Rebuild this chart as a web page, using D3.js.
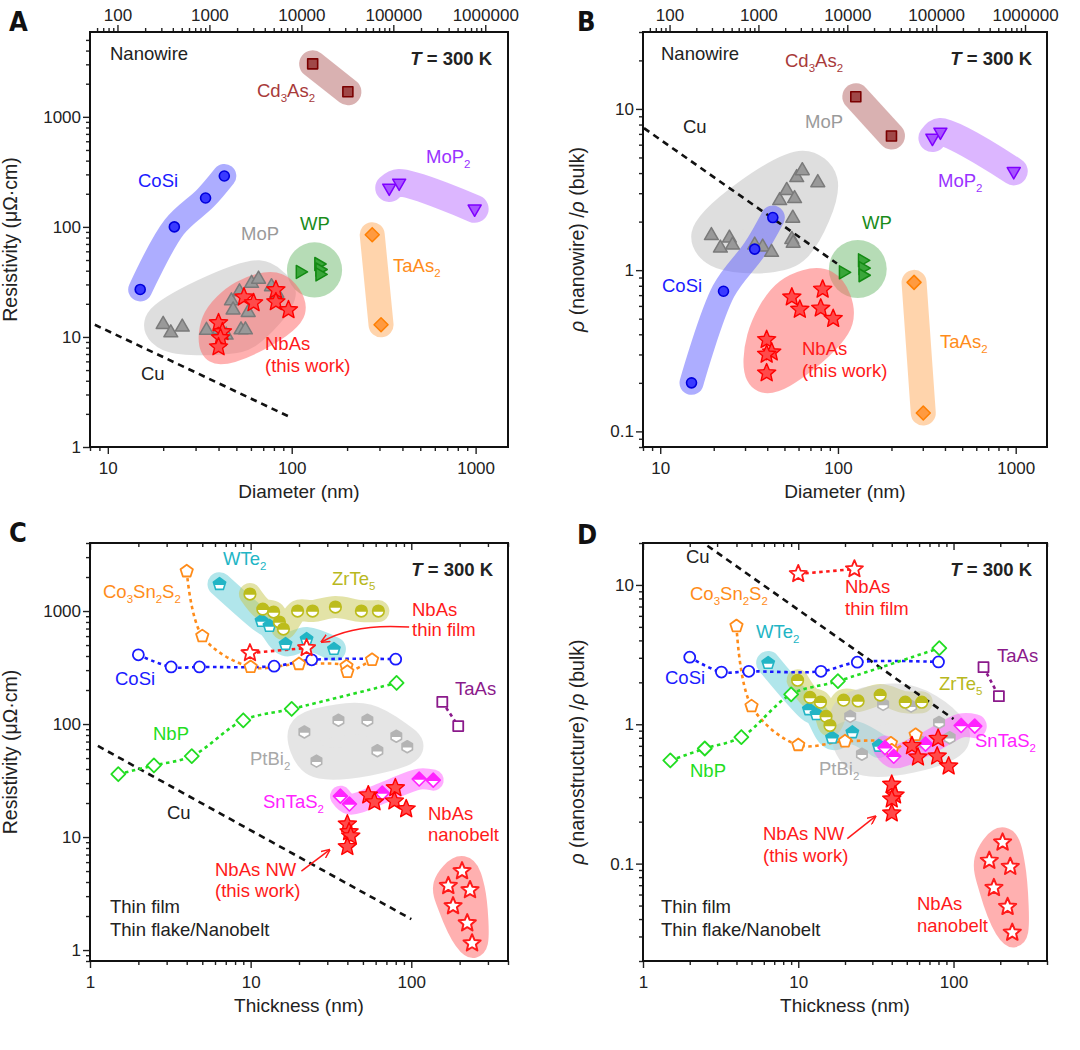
<!DOCTYPE html>
<html>
<head>
<meta charset="utf-8">
<script src="https://cdn.jsdelivr.net/npm/d3@7"></script>
<style>
  body { margin: 0; background: #fff; }
  svg { font-family: "Liberation Sans", Arial, Helvetica, sans-serif; }
</style>
</head>
<body>
<svg id="canvas" width="1080" height="1050"></svg>
<script>
// ---------- data, panel A: nanowire resistivity (uOhm cm) vs diameter (nm) ----------
const aCoSi   = [[15, 27], [23, 100], [34, 183], [43, 290]];
const aCd3As2 = [[130, 3030], [202, 1690]];
const aMoP2   = [[339, 226], [384, 251], [988, 146]];
const aTaAs2  = [[274, 85], [306, 12.9]];
const aWP     = [[111, 39], [140, 46], [142, 41], [142, 37]];
const aMoP    = [[20, 13], [22, 10.9], [25.4, 12.3], [34.4, 11.5], [40.5, 11.6], [44, 10.4], [47, 21.3],
                 [48, 17.6], [53, 11.6], [56, 11.6], [58, 16.7], [60.5, 30.7], [66, 33.5], [52, 25.7],
                 [77.6, 28.6], [83, 25]];
const aNbAs   = [[40, 13.4], [42, 11.1], [41, 9.8], [40, 8.1], [55, 23], [62, 20.4], [82, 26.7], [82, 20.8], [96, 17.6]];
const aCu     = [[8.5, 12.9], [96, 1.9]];

// ---------- data, panel B: rho(nanowire)/rho(bulk) vs diameter ----------
const bCoSi   = [[15, 0.2], [22.7, 0.74], [34, 1.35], [43, 2.12]];
const bCd3As2 = [[126, 11.9], [200, 6.8]];
const bMoP2   = [[340, 6.6], [377, 7.2], [975, 4.1]];
const bTaAs2  = [[268, 0.84], [302, 0.13]];
const bWP     = [[107, 0.97], [137, 1.15], [138, 1.03], [138, 0.93]];
const bMoP    = [[19.4, 1.64], [21.8, 1.37], [24.5, 1.58], [25.5, 1.43], [34, 1.43], [37.7, 1.39], [42.3, 1.29],
                 [47, 2.7], [51.5, 3.12], [57, 2.78], [58.6, 3.75], [63, 4.14], [77, 3.49], [55.7, 2.1],
                 [55, 1.55], [56, 1.47]];
const bNbAs   = [[39.7, 0.37], [42.4, 0.31], [39.7, 0.30], [39.7, 0.23], [55, 0.68], [61, 0.57], [82, 0.76], [80, 0.58], [94, 0.50]];
const bCu     = [[8.1, 7.6], [98.7, 1.1]];

// ---------- data, panel C: thin film / flake resistivity vs thickness (nm) ----------
const cCo3Sn2S2 = [[4, 2250], [5, 600], [10, 320], [20, 340], [39.5, 325], [40, 290], [57, 370]];
const cCoSi     = [[2, 410], [3.2, 320], [4.8, 320], [14, 325], [24, 370], [80, 375]];
const cNbP      = [[1.5, 36], [2.5, 43], [4.3, 52], [9, 108], [18, 136], [81, 231]];
const cWTe2     = [[6.4, 1730], [11.7, 816], [13.1, 737], [16.5, 510], [22.3, 565], [33, 461]];
const cZrTe5    = [[9.9, 1414], [11.9, 1040], [13.9, 980], [15.1, 800], [16, 693], [19.6, 1000], [24.3, 1000],
                   [33.7, 1085], [48.9, 1000], [62.4, 1000]];
const cNbAsFilm = [[9.9, 425], [22.3, 471]];
const cTaAs     = [[156, 157], [196, 96]];
const cPtBi2    = [[21.6, 85], [25.7, 47], [35.2, 108], [53.3, 108], [61.5, 58], [80.7, 78], [94.4, 63]];
const cSnTaS2   = [[36.2, 23], [41.2, 19.6], [66, 24.5], [112, 32.6], [137, 31.9]];
const cNbAsNW   = [[40, 13], [41, 11.1], [42, 10.2], [40, 8.2], [54, 23.5], [59, 20.4], [79.6, 27.2], [78.5, 20.8], [93, 17.7]];
const cNanobelt = [[207, 5.0], [170, 3.7], [232, 3.4], [182, 2.45], [223, 1.73], [239, 1.15]];
const cCu       = [[1.12, 64], [100, 1.88]];

// ---------- data, panel D: rho(nanostructure)/rho(bulk) vs thickness ----------
const dCo3Sn2S2 = [[4, 5.07], [5, 1.35], [10, 0.71], [20, 0.755], [39.5, 0.73], [40, 0.65], [57, 0.84]];
const dCoSi     = [[2, 3.03], [3.2, 2.37], [4.8, 2.4], [14, 2.4], [24, 2.79], [80, 2.8]];
const dNbP      = [[1.5, 0.55], [2.5, 0.67], [4.3, 0.81], [9, 1.64], [18, 2.04], [81, 3.52]];
const dWTe2     = [[6.4, 2.75], [11.7, 1.28], [13.1, 1.18], [16.5, 0.8], [22.3, 0.875], [33, 0.70]];
const dZrTe5    = [[9.9, 2.07], [11.9, 1.56], [13.9, 1.44], [15.1, 1.14], [16, 0.98], [19.6, 1.49], [24.3, 1.47],
                   [33.7, 1.62], [48.9, 1.44], [62.4, 1.44]];
const dNbAsFilm = [[10, 12], [23, 13]];
const dTaAs     = [[156, 2.57], [196, 1.59]];
const dPtBi2    = [[21.6, 1.14], [25.7, 0.61], [35.2, 1.39], [53.3, 1.35], [61.5, 0.75], [80.7, 1.03], [94.4, 0.8]];
const dSnTaS2   = [[36.2, 0.68], [41.2, 0.59], [66, 0.72], [112, 0.98], [137, 0.97]];
const dNbAsNW   = [[40, 0.37], [42, 0.31], [40, 0.29], [40, 0.23], [54, 0.70], [59, 0.58], [79.6, 0.79], [78.5, 0.59], [93, 0.50]];
const dNanobelt = [[207, 0.142], [170, 0.105], [232, 0.095], [182, 0.067], [223, 0.049], [239, 0.032]];
const dCu       = [[2.6, 19.1], [100, 1.09]];

// axis domains
const diamDomain = [8, 1500];
const thickDomain = [1, 400];
const aYDomain = [1, 5900];
const bYDomain = [0.08, 30];
const cYDomain = [0.8, 4000];
const dYDomain = [0.02, 20];

// ---------- layout ----------
const layout = {
  A: {left: 90,  top: 32,  width: 418, height: 415},
  B: {left: 643, top: 32,  width: 404, height: 415},
  C: {left: 90,  top: 543, width: 418, height: 418},
  D: {left: 643, top: 543, width: 404, height: 418}
};

const svg = d3.select("#canvas");
const defs = svg.append("defs");
defs.append("clipPath").attr("id", "lowerHalf")
  .append("rect").attr("x", -20).attr("y", 0.8).attr("width", 40).attr("height", 20);
defs.append("marker").attr("id", "arrowRed")
  .attr("viewBox", "0 0 10 10").attr("refX", 9).attr("refY", 5)
  .attr("markerWidth", 6).attr("markerHeight", 6).attr("orient", "auto")
  .append("path").attr("d", "M0,0.5 L10,5 L0,9.5")
  .attr("fill", "none").attr("stroke", "#ff1a1a").attr("stroke-width", 1.6);

// ---------- marker shapes ----------
function poly(n, r, start, inner) {
  const k = inner ? 2 * n : n, pts = [];
  for (let i = 0; i < k; i++) {
    const a = start + i * 2 * Math.PI / k;
    const rr = inner && i % 2 ? r * inner : r;
    pts.push([rr * Math.cos(a), rr * Math.sin(a)]);
  }
  return "M" + pts.map(p => p[0].toFixed(2) + "," + p[1].toFixed(2)).join("L") + "Z";
}
function shapePath(shape, r) {
  const up = -Math.PI / 2;
  switch (shape) {
    case "circle":   return `M${r},0A${r},${r} 0 1,1 ${-r},0A${r},${r} 0 1,1 ${r},0Z`;
    case "square":   return `M${-r},${-r}H${r}V${r}H${-r}Z`;
    case "triUp":    return poly(3, r, up);
    case "triDown":  return poly(3, r, Math.PI / 2);
    case "triRight": return poly(3, r, 0);
    case "diamond":  return poly(4, r, up);
    case "pentagon": return poly(5, r, up);
    case "hexagon":  return poly(6, r, up);
    case "star":     return poly(5, r, up, 0.45);
  }
}

const styles = {
  coSiNW:   {shape: "circle",   r: 5,   fill: "#3a3aff", stroke: "#0000dd", sw: 1.6},
  cd3As2:   {shape: "square",   r: 5,   fill: "#a04848", stroke: "#7a0000", sw: 1.6},
  moP2:     {shape: "triDown",  r: 7.5, fill: "#a855ff", stroke: "#7f00ff", sw: 1.5},
  taAs2:    {shape: "diamond",  r: 7,   fill: "#ff9a40", stroke: "#ff7f00", sw: 1.5},
  wp:       {shape: "triRight", r: 7.5, fill: "#3aa63a", stroke: "#138a13", sw: 1.5},
  moP:      {shape: "triUp",    r: 8,   fill: "#999999", stroke: "#7a7a7a", sw: 1.5},
  nbAsNW:   {shape: "star",     r: 9.5, fill: "#ff4a4a", stroke: "#ff0000", sw: 1.4},
  co3Sn2S2: {shape: "pentagon", r: 6.5, fill: "#ffffff", stroke: "#ff8c1a", sw: 1.8},
  coSiFilm: {shape: "circle",   r: 5.5, fill: "#ffffff", stroke: "#1a1aff", sw: 1.8},
  nbP:      {shape: "diamond",  r: 7,   fill: "#ffffff", stroke: "#22dd22", sw: 1.8},
  nbAsFilm: {shape: "star",     r: 9,   fill: "#ffffff", stroke: "#ff1a1a", sw: 1.8},
  taAs:     {shape: "square",   r: 5,   fill: "#ffffff", stroke: "#8b1a8b", sw: 1.8},
  wTe2:     {shape: "pentagon", r: 6.5, fill: "#22b5c5", stroke: "#22b5c5", sw: 1.6, half: true},
  zrTe5:    {shape: "circle",   r: 5.8, fill: "#bcbc1c", stroke: "#bcbc1c", sw: 1.6, half: true},
  ptBi2:    {shape: "hexagon",  r: 6,   fill: "#b4b4b4", stroke: "#b4b4b4", sw: 1.6, half: true},
  snTaS2:   {shape: "diamond",  r: 7,   fill: "#ff22ff", stroke: "#ff22ff", sw: 1.6, half: true},
  nanobelt: {shape: "star",     r: 9,   fill: "#ffffff", stroke: "#ff1a1a", sw: 2}
};

const col = {
  coSi: "#1a1aff", cd3As2: "#a83a3a", moP2: "#9933ff", moP: "#9a9a9a", wp: "#1a8c1a",
  taAs2: "#ff8c1a", nbAs: "#ff1a1a", co3: "#ff8c1a", wTe2: "#22b5c5", zrTe5: "#b8b820",
  nbP: "#22dd22", taAs: "#8b1a8b", ptBi2: "#a8a8a8", snTaS2: "#ff22ff", black: "#222"
};

// ---------- drawing helpers ----------
function markers(g, data, x, y, st) {
  const m = g.append("g").selectAll("g").data(data).join("g")
    .attr("transform", d => `translate(${x(d[0])},${y(d[1])})`);
  const p = shapePath(st.shape, st.r);
  if (st.half) {
    m.append("path").attr("d", p).attr("fill", st.fill);
    m.append("path").attr("d", p).attr("fill", "#fff").attr("clip-path", "url(#lowerHalf)");
    m.append("path").attr("d", p).attr("fill", "none").attr("stroke", st.stroke)
      .attr("stroke-width", st.sw).attr("stroke-linejoin", "round");
  } else {
    m.append("path").attr("d", p).attr("fill", st.fill).attr("stroke", st.stroke)
      .attr("stroke-width", st.sw).attr("stroke-linejoin", "round");
  }
}

function band(g, data, x, y, color, width) {
  const line = d3.line().x(d => x(d[0])).y(d => y(d[1])).curve(d3.curveCatmullRom.alpha(0.5));
  g.append("path").attr("d", line(data)).attr("fill", "none")
    .attr("stroke", color).attr("stroke-width", width)
    .attr("stroke-linecap", "round").attr("stroke-linejoin", "round")
    .attr("opacity", 0.5);
}

// rounded padded hull around a group of points
function blob(g, data, x, y, color, pad) {
  const pts = data.map(d => [x(d[0]), y(d[1])]);
  const hull = d3.polygonHull(pts);
  g.append("path").attr("d", d3.line().curve(d3.curveCatmullRomClosed.alpha(0.5))(hull))
    .attr("fill", color).attr("stroke", color).attr("stroke-width", 2 * pad)
    .attr("stroke-linejoin", "round").attr("opacity", 0.5);
}

// round patch centred on a small group
function disc(g, data, x, y, color, pad) {
  const pts = data.map(d => [x(d[0]), y(d[1])]);
  const cx = d3.mean(pts, p => p[0]), cy = d3.mean(pts, p => p[1]);
  const r = d3.max(pts, p => Math.hypot(p[0] - cx, p[1] - cy)) + pad;
  g.append("circle").attr("cx", cx).attr("cy", cy).attr("r", r)
    .attr("fill", color).attr("opacity", 0.5);
}

function dotted(g, data, x, y, color) {
  const line = d3.line().x(d => x(d[0])).y(d => y(d[1])).curve(d3.curveCatmullRom.alpha(0.5));
  g.append("path").attr("d", line(data)).attr("fill", "none")
    .attr("stroke", color).attr("stroke-width", 2.6).attr("stroke-dasharray", "3.5,3.5");
}

function cuLine(g, data, x, y) {
  g.append("path").attr("d", d3.line().x(d => x(d[0])).y(d => y(d[1]))(data))
    .attr("fill", "none").attr("stroke", "#111").attr("stroke-width", 2.6)
    .attr("stroke-dasharray", "6.5,5");
}

// mini markup: _x_ subscript, *x* italic
function rich(g, str, x, y, o = {}) {
  const size = o.size || 18.5;
  const t = g.append("text").attr("x", x).attr("y", y).attr("dy", "0.35em")
    .attr("text-anchor", o.anchor || "start").attr("fill", o.color || col.black)
    .style("font-size", size + "px");
  if (o.bold) t.style("font-weight", "bold");
  if (o.rotate) t.attr("transform", `rotate(-90,${x},${y})`);
  let shift = 0;
  str.split(/(_[^_]+_|\*[^*]+\*)/).filter(s => s.length).forEach(s => {
    if (s[0] === "_") {
      t.append("tspan").attr("dy", 5 - shift).style("font-size", (size * 0.62) + "px").text(s.slice(1, -1));
      shift = 5;
    } else {
      const ts = t.append("tspan").attr("dy", -shift).text(s[0] === "*" ? s.slice(1, -1) : s);
      if (s[0] === "*") ts.style("font-style", "italic");
      shift = 0;
    }
  });
  return t;
}

function arrow(g, pts, x, y) {
  const p = pts.map(d => [x(d[0]), y(d[1])]);
  const d = p.length === 3
    ? `M${p[0]}Q${p[1]} ${p[2]}`
    : `M${p[0]}L${p[1]}`;
  g.append("path").attr("d", d).attr("fill", "none").attr("stroke", "#ff1a1a")
    .attr("stroke-width", 1.5).attr("marker-end", "url(#arrowRed)");
}

const isMajor = v => Math.abs(Math.log10(v) - Math.round(Math.log10(v))) < 1e-9;
const fmt = d => d < 1 ? String(d) : d3.format("d")(d);

function axisStyle(sel) {
  sel.select(".domain").remove();
  sel.selectAll("line").attr("stroke", "#222").attr("stroke-width", 1.4);
  sel.selectAll("text").style("font-size", "17px").attr("fill", "#222");
}

function setupPanel(key, xDomain, yDomain, opts) {
  const p = layout[key];
  const g = svg.append("g").attr("transform", `translate(${p.left},${p.top})`);
  const x = d3.scaleLog().domain(xDomain).range([0, p.width]);
  const y = d3.scaleLog().domain(yDomain).range([p.height, 0]);
  const xt = x.ticks(), yt = y.ticks();

  const axes = g.append("g");
  axes.append("g").attr("transform", `translate(0,${p.height})`)
    .call(d3.axisBottom(x).tickValues(xt.filter(isMajor)).tickSize(7).tickPadding(8).tickFormat(fmt)).call(axisStyle);
  axes.append("g").attr("transform", `translate(0,${p.height})`)
    .call(d3.axisBottom(x).tickValues(xt.filter(v => !isMajor(v))).tickSize(4).tickFormat("")).call(axisStyle);
  axes.append("g")
    .call(d3.axisLeft(y).tickValues(yt.filter(isMajor)).tickSize(7).tickPadding(2).tickFormat(fmt)).call(axisStyle);
  axes.append("g")
    .call(d3.axisLeft(y).tickValues(yt.filter(v => !isMajor(v))).tickSize(4).tickFormat("")).call(axisStyle);

  if (opts.areaTop) {
    // top axis: cross-sectional area pi*d^2/4 (nm^2)
    const xa = d3.scaleLog().domain(xDomain.map(d => Math.PI * d * d / 4)).range([0, p.width]);
    const at = xa.ticks();
    axes.append("g").call(d3.axisTop(xa).tickValues(at.filter(isMajor)).tickSize(7).tickPadding(4).tickFormat(fmt)).call(axisStyle);
    axes.append("g").call(d3.axisTop(xa).tickValues(at.filter(v => !isMajor(v))).tickSize(4).tickFormat("")).call(axisStyle);
  } else {
    axes.append("g").call(d3.axisTop(x).tickValues(xt.filter(isMajor)).tickSize(-7).tickFormat("")).call(axisStyle);
    axes.append("g").call(d3.axisTop(x).tickValues(xt.filter(v => !isMajor(v))).tickSize(-4).tickFormat("")).call(axisStyle);
  }

  g.append("rect").attr("width", p.width).attr("height", p.height)
    .attr("fill", "none").attr("stroke", "#111").attr("stroke-width", 2);

  rich(g, opts.xTitle, p.width / 2, p.height + 51, {anchor: "middle", size: 19});
  rich(g, opts.yTitle, opts.yTitleX, p.height / 2, {anchor: "middle", size: 19.5, rotate: true});
  rich(g, "*T* = 300 K", opts.tempX, 33, {anchor: "end", bold: true, size: 18.5});
  g.append("text").attr("x", opts.letterX).attr("y", opts.letterY).attr("dy", "0.35em")
    .style("font-family", "'Liberation Sans Narrow','DejaVu Sans Condensed',sans-serif")
    .style("font-weight", "bold").style("font-size", "27px").attr("fill", "#111").text(key);

  const plot = g.append("g");
  return {g: plot, x, y};
}

function labels(g, list) {
  list.forEach(([txt, lx, ly, color]) => rich(g, txt, lx, ly, {color}));
}

// ================= Panel A =================
{
  const {g, x, y} = setupPanel("A", diamDomain, aYDomain, {
    areaTop: true, xTitle: "Diameter (nm)", yTitle: "Resistivity (μΩ·cm)",
    yTitleX: -73, tempX: 402, letterX: -81, letterY: -10
  });
  band(g, aCoSi, x, y, "#5c5cff", 24);
  band(g, aCd3As2, x, y, "#b46464", 27);
  band(g, aMoP2, x, y, "#b96eff", 28);
  band(g, aTaAs2, x, y, "#ffaa5a", 25);
  disc(g, aWP, x, y, "#6eb96e", 13);
  blob(g, aMoP, x, y, "#bebebe", 19);
  blob(g, aNbAs, x, y, "#ff6464", 17);
  cuLine(g, aCu, x, y);
  markers(g, aCoSi, x, y, styles.coSiNW);
  markers(g, aCd3As2, x, y, styles.cd3As2);
  markers(g, aMoP2, x, y, styles.moP2);
  markers(g, aTaAs2, x, y, styles.taAs2);
  markers(g, aWP, x, y, styles.wp);
  markers(g, aMoP, x, y, styles.moP);
  markers(g, aNbAs, x, y, styles.nbAsNW);
  labels(g, [
    ["Nanowire", 20, 28, col.black],
    ["Cd_3_As_2_", 167, 65, col.cd3As2],
    ["CoSi", 48, 155, col.coSi],
    ["MoP_2_", 336, 131, col.moP2],
    ["MoP", 151, 208, col.moP],
    ["WP", 210, 198, col.wp],
    ["TaAs_2_", 303, 240, col.taAs2],
    ["NbAs", 175, 318, col.nbAs],
    ["(this work)", 175, 340, col.nbAs],
    ["Cu", 51, 348, col.black]
  ]);
}

// ================= Panel B =================
{
  const {g, x, y} = setupPanel("B", diamDomain, bYDomain, {
    areaTop: true, xTitle: "Diameter (nm)", yTitle: "*ρ* (nanowire) /*ρ* (bulk)",
    yTitleX: -59, tempX: 389, letterX: -66, letterY: -10
  });
  blob(g, bMoP, x, y, "#bebebe", 20);
  band(g, bCoSi, x, y, "#5c5cff", 24);
  band(g, bCd3As2, x, y, "#b46464", 27);
  band(g, bMoP2, x, y, "#b96eff", 28);
  band(g, bTaAs2, x, y, "#ffaa5a", 25);
  disc(g, bWP, x, y, "#6eb96e", 14);
  blob(g, bNbAs, x, y, "#ff6464", 20);
  cuLine(g, bCu, x, y);
  markers(g, bMoP, x, y, styles.moP);
  markers(g, bCoSi, x, y, styles.coSiNW);
  markers(g, bCd3As2, x, y, styles.cd3As2);
  markers(g, bMoP2, x, y, styles.moP2);
  markers(g, bTaAs2, x, y, styles.taAs2);
  markers(g, bWP, x, y, styles.wp);
  markers(g, bNbAs, x, y, styles.nbAsNW);
  labels(g, [
    ["Nanowire", 18, 28, col.black],
    ["Cd_3_As_2_", 142, 35, col.cd3As2],
    ["Cu", 40, 101, col.black],
    ["MoP", 162, 96, col.moP],
    ["MoP_2_", 295, 155, col.moP2],
    ["WP", 219, 197, col.wp],
    ["CoSi", 19, 260, col.coSi],
    ["NbAs", 159, 323, col.nbAs],
    ["(this work)", 159, 345, col.nbAs],
    ["TaAs_2_", 297, 316, col.taAs2]
  ]);
}

// ================= Panel C =================
{
  const {g, x, y} = setupPanel("C", thickDomain, cYDomain, {
    areaTop: false, xTitle: "Thickness (nm)", yTitle: "Resistivity (μΩ·cm)",
    yTitleX: -73, tempX: 403, letterX: -81, letterY: -10
  });
  band(g, cWTe2, x, y, "#64cdd7", 24);
  band(g, cZrTe5, x, y, "#c8c850", 22);
  blob(g, cPtBi2, x, y, "#cccccc", 16);
  band(g, cSnTaS2, x, y, "#ff5aff", 21);
  blob(g, cNanobelt, x, y, "#ff6464", 15);
  cuLine(g, cCu, x, y);
  dotted(g, cCo3Sn2S2, x, y, col.co3);
  dotted(g, cCoSi, x, y, col.coSi);
  dotted(g, cNbP, x, y, col.nbP);
  dotted(g, cNbAsFilm, x, y, col.nbAs);
  dotted(g, cTaAs, x, y, col.taAs);
  markers(g, cPtBi2, x, y, styles.ptBi2);
  markers(g, cWTe2, x, y, styles.wTe2);
  markers(g, cZrTe5, x, y, styles.zrTe5);
  markers(g, cCo3Sn2S2, x, y, styles.co3Sn2S2);
  markers(g, cCoSi, x, y, styles.coSiFilm);
  markers(g, cNbP, x, y, styles.nbP);
  markers(g, cNbAsFilm, x, y, styles.nbAsFilm);
  markers(g, cTaAs, x, y, styles.taAs);
  markers(g, cSnTaS2, x, y, styles.snTaS2);
  markers(g, cNbAsNW, x, y, styles.nbAsNW);
  markers(g, cNanobelt, x, y, styles.nanobelt);
  arrow(g, [[97, 721], [44, 783], [27.6, 532]], x, y);
  arrow(g, [[20.7, 5.0], [31, 7.7]], x, y);
  labels(g, [
    ["WTe_2_", 133, 22, col.wTe2],
    ["Co_3_Sn_2_S_2_", 13, 55, col.co3],
    ["ZrTe_5_", 242, 42, col.zrTe5],
    ["NbAs", 322, 73, col.nbAs],
    ["thin film", 322, 93, col.nbAs],
    ["CoSi", 25, 142, col.coSi],
    ["TaAs", 365, 152, col.taAs],
    ["NbP", 63, 197, col.nbP],
    ["PtBi_2_", 160, 222, col.ptBi2],
    ["SnTaS_2_", 173, 265, col.snTaS2],
    ["Cu", 77, 276, col.black],
    ["NbAs", 338, 277, col.nbAs],
    ["nanobelt", 338, 298, col.nbAs],
    ["NbAs NW", 125, 333, col.nbAs],
    ["(this work)", 125, 354, col.nbAs],
    ["Thin film", 20, 370, col.black],
    ["Thin flake/Nanobelt", 20, 393, col.black]
  ]);
}

// ================= Panel D =================
{
  const {g, x, y} = setupPanel("D", thickDomain, dYDomain, {
    areaTop: false, xTitle: "Thickness (nm)", yTitle: "*ρ* (nanostructure) /*ρ* (bulk)",
    yTitleX: -59, tempX: 389, letterX: -66, letterY: -8
  });
  band(g, dWTe2, x, y, "#64cdd7", 24);
  band(g, dZrTe5, x, y, "#c8c850", 22);
  blob(g, dPtBi2, x, y, "#cccccc", 20);
  band(g, dSnTaS2, x, y, "#ff5aff", 24);
  blob(g, dNanobelt, x, y, "#ff6464", 15);
  cuLine(g, dCu, x, y);
  dotted(g, dCo3Sn2S2, x, y, col.co3);
  dotted(g, dCoSi, x, y, col.coSi);
  dotted(g, dNbP, x, y, col.nbP);
  dotted(g, dNbAsFilm, x, y, col.nbAs);
  dotted(g, dTaAs, x, y, col.taAs);
  markers(g, dPtBi2, x, y, styles.ptBi2);
  markers(g, dWTe2, x, y, styles.wTe2);
  markers(g, dZrTe5, x, y, styles.zrTe5);
  markers(g, dCo3Sn2S2, x, y, styles.co3Sn2S2);
  markers(g, dCoSi, x, y, styles.coSiFilm);
  markers(g, dNbP, x, y, styles.nbP);
  markers(g, dNbAsFilm, x, y, styles.nbAsFilm);
  markers(g, dTaAs, x, y, styles.taAs);
  markers(g, dSnTaS2, x, y, styles.snTaS2);
  markers(g, dNbAsNW, x, y, styles.nbAsNW);
  markers(g, dNanobelt, x, y, styles.nanobelt);
  arrow(g, [[20.7, 0.151], [31.4, 0.218]], x, y);
  labels(g, [
    ["Cu", 43, 20, col.black],
    ["NbAs", 202, 50, col.nbAs],
    ["thin film", 202, 72, col.nbAs],
    ["Co_3_Sn_2_S_2_", 47, 57, col.co3],
    ["WTe_2_", 113, 95, col.wTe2],
    ["CoSi", 22, 141, col.coSi],
    ["TaAs", 354, 119, col.taAs],
    ["ZrTe_5_", 296, 147, col.zrTe5],
    ["SnTaS_2_", 332, 204, col.snTaS2],
    ["NbP", 47, 234, col.nbP],
    ["PtBi_2_", 176, 232, col.ptBi2],
    ["NbAs NW", 120, 297, col.nbAs],
    ["(this work)", 120, 319, col.nbAs],
    ["NbAs", 274, 367, col.nbAs],
    ["nanobelt", 274, 389, col.nbAs],
    ["Thin film", 18, 370, col.black],
    ["Thin flake/Nanobelt", 18, 393, col.black]
  ]);
}
</script>
</body>
</html>
